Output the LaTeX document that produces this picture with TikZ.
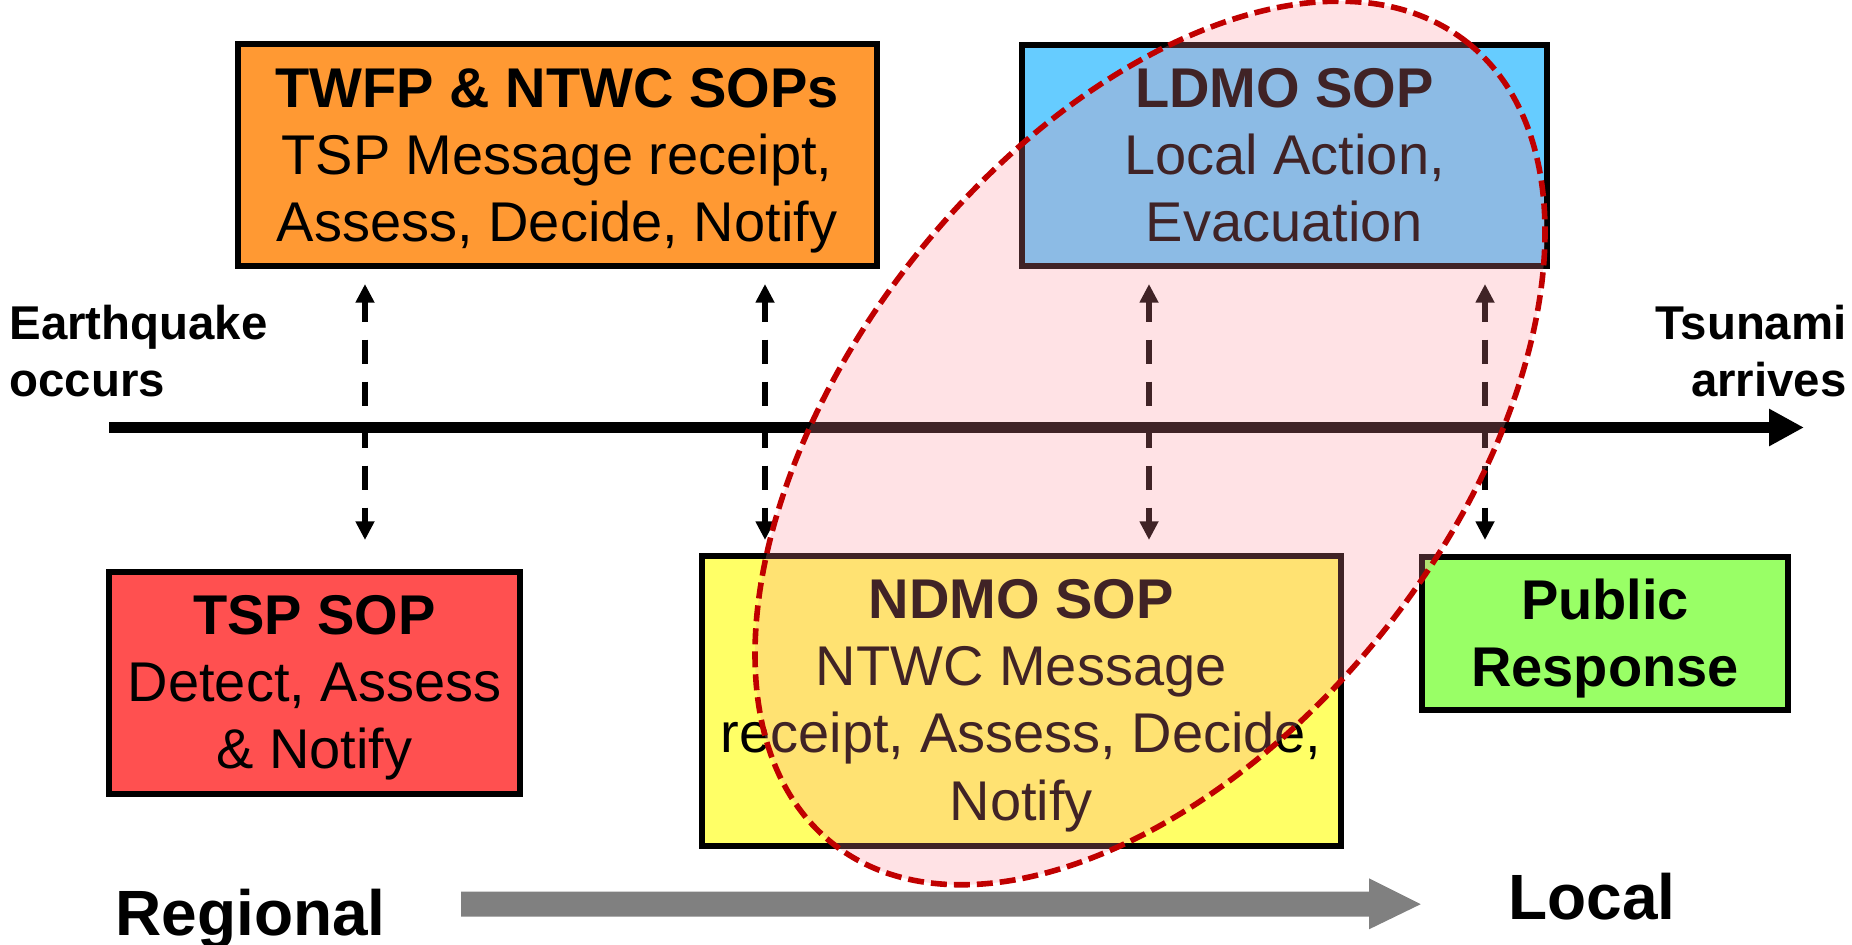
\documentclass[tikz,border=0pt]{standalone}
\usepackage{fontspec}
\setmainfont{Liberation Sans}
\usetikzlibrary{arrows.meta}
\definecolor{orangeF}{HTML}{FF9933}
\definecolor{redF}{HTML}{FF5050}
\definecolor{yellowF}{HTML}{FFFF66}
\definecolor{blueF}{HTML}{66CCFF}
\definecolor{greenF}{HTML}{99FF66}
\definecolor{grayF}{HTML}{808080}
\definecolor{ellF}{RGB}{255,140,152}
\definecolor{ellD}{HTML}{C00000}
\tikzset{
  sopbox/.style={draw=black, line width=3pt, inner sep=0pt},
  boxtext/.style={font=\fontsize{28pt}{33.6pt}\selectfont, align=center, anchor=base, inner sep=0pt},
  sidelabel/.style={font=\bfseries\fontsize{23.7pt}{28.5pt}\selectfont, inner sep=0pt},
  scalelabel/.style={font=\bfseries\fontsize{32pt}{38pt}\selectfont, inner sep=0pt, anchor=base west},
  dasharrow/.style={{Triangle[length=9.35pt,width=9pt]}-{Triangle[length=9.35pt,width=9pt]}, line width=3pt, dash pattern=on 12pt off 9pt, dash phase=2pt},
  timeline/.style={line width=5.85pt, -{Triangle[length=17.5pt,width=17.5pt]}},
  zone/.style={fill=ellF, fill opacity=0.25, draw=ellD, line width=2.8pt, dash pattern=on 8pt off 3.5pt},
}
\begin{document}
\begin{tikzpicture}[x=0.5pt,y=-0.5pt]
\useasboundingbox (0,0) rectangle (1852,945);
% boxes
\node[sopbox, fill=orangeF, minimum width=319.5pt, minimum height=111pt] (twfp) at (557,155.5) {};
\node[sopbox, fill=blueF, minimum width=262.5pt, minimum height=110.5pt] (ldmo) at (1284.5,155.5) {};
\node[sopbox, fill=redF, minimum width=205.5pt, minimum height=111pt] (tsp) at (314.5,683) {};
\node[sopbox, fill=yellowF, minimum width=319.75pt, minimum height=144.85pt] (ndmo) at (1021.25,701.2) {};
\node[sopbox, fill=greenF, minimum width=183pt, minimum height=76.5pt] (pub) at (1605,633.5) {};
% box texts (anchor base = baseline of the last line)
\node[boxtext] (twfpT) at (557,242) {\textbf{TWFP \& NTWC SOPs}\\TSP Message receipt,\\Assess, Decide, Notify};
\node[boxtext] (ldmoT) at (1284.5,242) {\textbf{LDMO SOP}\\Local Action,\\Evacuation};
\node[boxtext] (tspT) at (314.5,769) {\textbf{TSP SOP}\\Detect, Assess\\\& Notify};
\node[boxtext] (ndmoT) at (1021.25,820) {\textbf{NDMO SOP}\\NTWC Message\\receipt, Assess, Decide,\\Notify};
\node[boxtext, font=\bfseries\fontsize{28pt}{33.6pt}\selectfont] (pubT) at (1605,687) {Public\\Response};
% dashed arrows
\foreach \x/\n in {365/a,765/b,1149/c,1485/d}{
  \coordinate (\n top) at (\x,284);
  \coordinate (\n bot) at (\x,540);
  \draw[dasharrow] (\n top) -- (\n bot);
}
% timeline
\coordinate (tl0) at (109,427.5);
\coordinate (tl1) at (1804,427.5);
\draw[timeline] (tl0) -- (tl1);
% side labels
\node[sidelabel, anchor=base west, align=left] (eq) at (9,397) {Earthquake\\occurs};
\node[sidelabel, anchor=base east, align=right] (ts) at (1847,397) {Tsunami\\arrives};
\node[scalelabel] (reg) at (115,935) {Regional};
\node[scalelabel] (loc) at (1508,919) {Local};
% gray block arrow
\fill[grayF] (461,891.7) -- (1369,891.7) -- (1369,878.3) -- (1420.7,904.2) -- (1369,929.3) -- (1369,916.7) -- (461,916.7) -- cycle;
% highlight ellipse
\draw[zone, rotate around={51.6:(1150,443)}] (1150,443) ellipse [x radius=255.5pt, y radius=150pt];
\end{tikzpicture}
\end{document}
